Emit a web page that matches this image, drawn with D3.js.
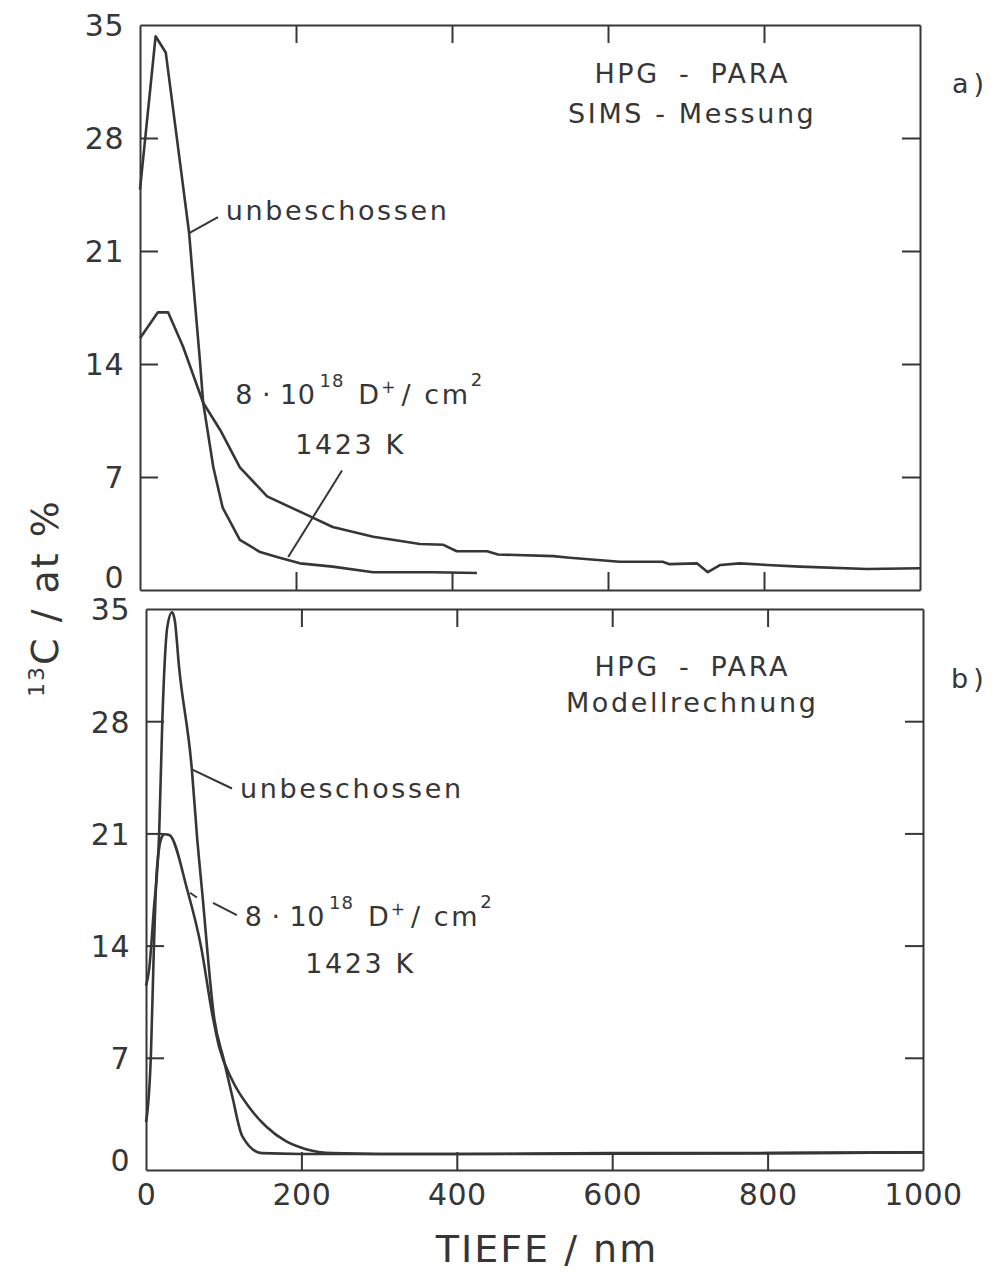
<!DOCTYPE html>
<html>
<head>
<meta charset="utf-8">
<script src="https://cdn.jsdelivr.net/npm/d3@7"></script>
<style>
body { margin: 0; background: #fff; }
</style>
</head>
<body>
<div id="chart"></div>
<script>
// a) SIMS - Messung
var simsDepthUnb = [0, 20, 33, 51, 63, 68, 77, 81, 94, 106, 128, 154, 179, 205, 247, 299, 376, 432];
var simsUnb      = [24.8, 34.3, 33.3, 26.6, 22.1, 19.2, 14.1, 11.6, 7.6, 5.1, 3.1, 2.35, 2.0, 1.65, 1.45, 1.1, 1.1, 1.05];
var simsDepthIrr = [0, 23, 36, 55, 81, 103, 128, 163, 214, 247, 299, 359, 389, 406, 445, 459, 530, 551, 615, 670, 679, 714, 728, 744, 769, 804, 846, 932, 1000];
var simsIrr      = [15.6, 17.2, 17.2, 15.1, 11.6, 9.9, 7.6, 5.8, 4.65, 3.9, 3.3, 2.85, 2.8, 2.4, 2.4, 2.2, 2.1, 2.0, 1.75, 1.75, 1.6, 1.65, 1.1, 1.55, 1.65, 1.55, 1.45, 1.3, 1.35];

// b) Modellrechnung
var modDepthUnb = [0, 4, 10, 17, 21, 27.5, 33.5, 37, 42.5, 59, 66, 72, 88, 100, 111, 124, 149, 200, 400, 600, 800, 1000];
var modUnb      = [11.5, 12.5, 16.2, 21.1, 28, 33.9, 34.8, 34.3, 31.4, 25, 20.6, 17.5, 9.4, 6.9, 4.6, 2.1, 1.05, 1.0, 1.0, 1.05, 1.05, 1.1];
var modDepthIrr = [0, 1, 6.4, 10, 14, 20.6, 24, 30, 53, 71, 85, 94, 111, 133, 155, 180, 206, 240, 300, 500, 800, 1000];
var modIrr      = [3.0, 3.3, 7.3, 13.6, 18.75, 20.8, 20.95, 20.9, 17.5, 13.9, 9.8, 7.7, 5.6, 3.9, 2.7, 1.8, 1.3, 1.05, 1.0, 1.0, 1.05, 1.1];

var yLabels = [0, 7, 14, 21, 28, 35];
var xLabels = [0, 200, 400, 600, 800, 1000];
var xInner = [200, 400, 600, 800];
var yInner = [7, 14, 21, 28];

var ink = "#363636";
var font = "'DejaVu Sans', sans-serif";

var svg = d3.select("#chart").append("svg")
    .attr("width", 1000)
    .attr("height", 1279)
    .style("background", "#fff");

function zip(xs, ys) {
	return xs.map(function(d, i) { return [d, ys[i]]; });
}

function styleAxis(sel) {
	sel.attr("color", ink);
	sel.selectAll("path, line").attr("stroke-width", 2);
}

function drawFrame(x, y) {
	var g = svg.append("g");
	var x0 = x.range()[0], x1 = x.range()[1];
	var yb = y.range()[0], yt = y.range()[1];
	g.append("g").attr("transform", "translate(" + x0 + ",0)")
		.call(d3.axisLeft(y).tickValues(yInner).tickSize(-18).tickSizeOuter(0).tickFormat(""))
		.call(styleAxis);
	g.append("g").attr("transform", "translate(" + x1 + ",0)")
		.call(d3.axisRight(y).tickValues(yInner).tickSize(-18).tickSizeOuter(0).tickFormat(""))
		.call(styleAxis);
	g.append("g").attr("transform", "translate(0," + yt + ")")
		.call(d3.axisTop(x).tickValues(xInner).tickSize(-18).tickSizeOuter(0).tickFormat(""))
		.call(styleAxis);
	g.append("g").attr("transform", "translate(0," + yb + ")")
		.call(d3.axisBottom(x).tickValues(xInner).tickSize(-18).tickSizeOuter(0).tickFormat(""))
		.call(styleAxis);
	return g;
}

function yTickLabels(x, y, zeroShift) {
	var ax = svg.append("g").attr("transform", "translate(" + x.range()[0] + ",0)")
		.call(d3.axisLeft(y).tickValues(yLabels).tickSize(0).tickPadding(16));
	ax.select(".domain").remove();
	ax.selectAll("text")
		.attr("font-size", 30)
		.attr("font-family", font)
		.attr("letter-spacing", 0.5)
		.attr("fill", ink)
		.attr("dy", function(d) { return d === 0 ? (0.36 * 30 - zeroShift) + "px" : "0.36em"; });
}

function drawCurve(x, y, pts, curve) {
	var line = d3.line()
		.x(function(d) { return x(d[0]); })
		.y(function(d) { return y(d[1]); })
		.curve(curve);
	svg.append("path")
		.datum(pts)
		.attr("d", line)
		.attr("fill", "none")
		.attr("stroke", ink)
		.attr("stroke-width", 2.6)
		.attr("stroke-linejoin", "round");
}

function leader(x, y, a, b) {
	svg.append("line")
		.attr("x1", x(a[0])).attr("y1", y(a[1]))
		.attr("x2", x(b[0])).attr("y2", y(b[1]))
		.attr("stroke", ink)
		.attr("stroke-width", 2);
}

function label(px, py, str, anchor) {
	return svg.append("text")
		.attr("x", px).attr("y", py)
		.attr("font-family", font)
		.attr("font-size", 27)
		.attr("letter-spacing", 2.6)
		.attr("fill", ink)
		.attr("text-anchor", anchor || "start")
		.text(str);
}

function doseLabel(px, py) {
	var t = svg.append("text")
		.attr("x", px).attr("y", py)
		.attr("font-family", font)
		.attr("font-size", 27)
		.attr("fill", ink);
	t.append("tspan").attr("letter-spacing", 0.5).text("8 · 10");
	t.append("tspan").attr("font-size", 18).attr("dy", -17).attr("dx", 4).attr("letter-spacing", 1).text("18");
	t.append("tspan").attr("dy", 17).attr("dx", 14).attr("letter-spacing", 2).text("D");
	t.append("tspan").attr("font-size", 17).attr("dy", -11).text("+");
	t.append("tspan").attr("dy", 11).attr("dx", 6).attr("letter-spacing", 2.6).text("/ cm");
	t.append("tspan").attr("font-size", 18).attr("dy", -18).attr("dx", 0).text("2");
}

// ---------- panel a ----------
var xA = d3.scaleLinear().domain([0, 1000]).range([140, 920]);
var yA = d3.scaleLinear().domain([0, 35]).range([590, 25]);

drawFrame(xA, yA);
yTickLabels(xA, yA, 13);
drawCurve(xA, yA, zip(simsDepthUnb, simsUnb), d3.curveLinear);
drawCurve(xA, yA, zip(simsDepthIrr, simsIrr), d3.curveLinear);

leader(xA, yA, [63, 22.1], [100, 23.1]);
label(xA(110), yA(22.9), "unbeschossen");
doseLabel(xA(122), yA(11.5));
label(xA(199), yA(8.4), "1423 K");
leader(xA, yA, [259, 7.4], [190, 2.05]);
label(xA(708), yA(31.4), "HPG - PARA", "middle").attr("word-spacing", 8);
label(xA(708), yA(28.9), "SIMS - Messung", "middle");
label(xA(1000) + 32, yA(30.8), "a)").attr("letter-spacing", 5);

// ---------- panel b ----------
var xB = d3.scaleLinear().domain([0, 1000]).range([146, 923]);
var yB = d3.scaleLinear().domain([0, 35]).range([1170, 609]);

drawFrame(xB, yB);
yTickLabels(xB, yB, 10);
drawCurve(xB, yB, zip(modDepthUnb, modUnb), d3.curveMonotoneX);
drawCurve(xB, yB, zip(modDepthIrr, modIrr), d3.curveMonotoneX);

leader(xB, yB, [59, 25], [110.7, 23.8]);
label(xB(121), yB(23.2), "unbeschossen");
leader(xB, yB, [56.6, 17.3], [65.6, 17.0]);
leader(xB, yB, [86.2, 16.66], [117, 15.9]);
doseLabel(xB(127), yB(15.2));
label(xB(205), yB(12.3), "1423 K");
label(xB(703), yB(30.8), "HPG - PARA", "middle").attr("word-spacing", 8);
label(xB(703), yB(28.6), "Modellrechnung", "middle");
label(xB(1000) + 28, yB(30.1), "b)").attr("letter-spacing", 5);

// x tick labels, bottom panel only
var xAx = svg.append("g").attr("transform", "translate(0," + yB.range()[0] + ")")
	.call(d3.axisBottom(xB).tickValues(xLabels).tickSize(0).tickPadding(14).tickFormat(d3.format("d")));
xAx.select(".domain").remove();
xAx.selectAll("text")
	.attr("font-size", 30)
	.attr("font-family", font)
	.attr("letter-spacing", 0.5)
	.attr("fill", ink);

// axis titles
svg.append("text")
	.attr("x", 547).attr("y", 1262)
	.attr("text-anchor", "middle")
	.attr("font-family", font)
	.attr("font-size", 38)
	.attr("letter-spacing", 2)
	.attr("fill", ink)
	.text("TIEFE / nm");

var yt = svg.append("text")
	.attr("transform", "translate(58,598) rotate(-90)")
	.attr("text-anchor", "middle")
	.attr("font-family", font)
	.attr("font-size", 38)
	.attr("letter-spacing", 2)
	.attr("fill", ink);
yt.append("tspan").attr("font-size", 22).attr("dy", -14).text("13");
yt.append("tspan").attr("dy", 14).text("C / at %");
</script>
</body>
</html>
